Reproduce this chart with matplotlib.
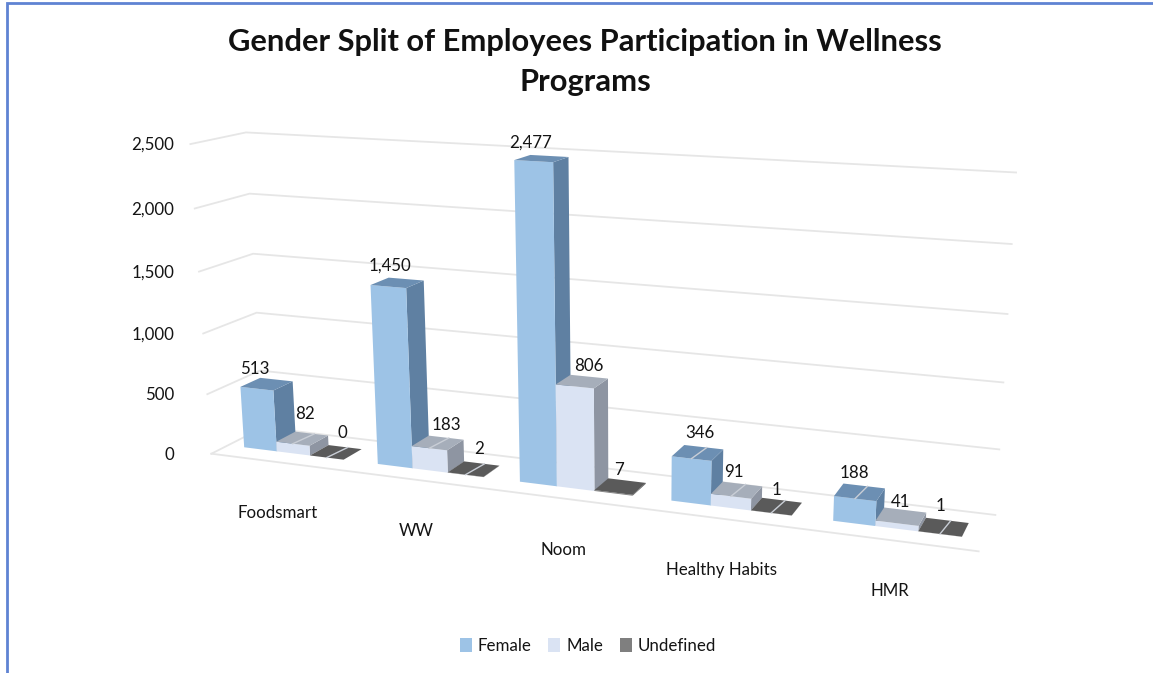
# gender split 3D column chart, perspective done by hand on a pixel sized axes

import numpy as np
import matplotlib
matplotlib.use('Agg')
from matplotlib import pyplot as plt
from matplotlib.patches import Polygon, Patch

plt.rcParams['font.family'] = ['Lato', 'DejaVu Sans']

title = 'Gender Split of Employees Participation in Wellness\nPrograms'
programs = ['Foodsmart', 'WW', 'Noom', 'Healthy Habits', 'HMR']
series = ['Female', 'Male', 'Undefined']
female = [513, 1450, 2477, 346, 188]
male = [82, 183, 806, 91, 41]
undefined = [0, 2, 7, 1, 1]
y_ticks = [0, 500, 1000, 1500, 2000, 2500]

front_col = ['#9DC3E6', '#DAE3F3', '#7F7F7F']
top_col = ['#6C8FB3', '#A6AEBA', '#5A5A5A']
side_col = ['#5F80A2', '#8E95A2', '#555555']
legend_col = ['#9DC3E6', '#DAE3F3', '#7F7F7F']
grid_col = '#E6E6E6'
text_col = '#141414'

# data labels do not sit on a clean rule in the original, so nudge them (pixels)
label_dx = [[-22, -16, -19, -4, -10], [-7, 0, 0, -8, -4], [-3, -3, -8, -5, -7]]
label_dy = [[0, -2, -2, -3, -2], [-9, -2, 0, -1, 3], [-3, -4, 0, 1, -3]]

# camera: (across, depth, value/2500) -> pixel, fitted on points
calib = [
    (0, 0, 0, 212, 452), (1, 0, 0, 980, 552), (0, 1, 0, 266, 431), (1, 1, 0, 995, 514),
    (0, 1, 1, 245, 132), (1, 1, 1, 1016, 173), (0, 1, .8, 250, 193), (1, 1, .8, 1012, 244),
    (0, 1, .6, 252, 252), (1, 1, .6, 1008, 314), (0, 1, .4, 257, 312), (1, 1, .4, 1003, 382),
    (1, 1, .2, 999, 449), (0, 0, 1, 191, 144), (0, 0, .8, 195, 209), (0, 0, .2, 207, 393),
    (.425, .31, .9908, 515, 162), (.425, .31, 0, 519, 481), (.225, .31, .58, 371, 285),
    (.225, .31, 0, 377, 466), (.025, .31, .2052, 240, 387), (.025, .31, 0, 243, 447),
    (.475, .31, .3224, 555, 385), (.475, .69, .9908, 568, 157), (.625, .31, .1384, 672, 457),
    (.625, .31, 0, 671, 500), (.825, .31, .0752, 834, 496), (.825, .31, 0, 833, 520),
]
rows, rhs = [], []
for X, Y, Z, px, py in calib:
    rows.append([X, Y, Z, 1, 0, 0, 0, 0, -px * X, -px * Y, -px * Z])
    rows.append([0, 0, 0, 0, X, Y, Z, 1, -py * X, -py * Y, -py * Z])
    rhs += [px, py]
p = np.linalg.lstsq(np.array(rows, float), np.array(rhs, float), rcond=None)[0]
P = np.append(p, 1).reshape(3, 4)


def proj(u, d, v):
    q = P @ np.array([u, d, v / 2500, 1])
    return q[0] / q[2], q[1] / q[2]


fig = plt.figure(figsize=(11.53, 6.73), dpi=100)
ax = fig.add_axes([0, 0, 1, 1])
ax.set_xlim(0, 1153)
ax.set_ylim(673, 0)
ax.axis('off')

# blue frame of the screenshot
ax.plot([7, 7, 1153], [673, 3, 3], color='#5F83D3', lw=2, solid_joinstyle='miter')

ax.text(585, 62, title, ha='center', va='center', fontsize=22.2, fontweight='bold',
        color='#111111', linespacing=1.5)

# walls and floor
for t in y_ticks:
    pts = [proj(0, 0, t), proj(0, 1, t), proj(1, 1, t)]
    ax.plot(*zip(*pts), color=grid_col, lw=1.3, zorder=1)
    ax.text(174, proj(0, 0, t)[1] + 1, f'{t:,}', ha='right', va='center', fontsize=12.2, color=text_col)
ax.plot(*zip(proj(0, 0, 0), proj(1, 0, 0)), color=grid_col, lw=1.3, zorder=1)

# bars, left to right so the nearer faces cover the rest
d0, d1 = .31, .69
bar_w = .05
values = [female, male, undefined]
for i, name in enumerate(programs):
    for s in range(3):
        val = values[s][i]
        u0 = (i + .125) / 5 + s * bar_w
        u1 = u0 + bar_w
        front = [proj(u0, d0, 0), proj(u1, d0, 0), proj(u1, d0, val), proj(u0, d0, val)]
        side = [proj(u1, d0, 0), proj(u1, d1, 0), proj(u1, d1, val), proj(u1, d0, val)]
        top = [proj(u0, d0, val), proj(u1, d0, val), proj(u1, d1, val), proj(u0, d1, val)]
        ax.add_patch(Polygon(side, fc=side_col[s], ec='none', zorder=2))
        ax.add_patch(Polygon(front, fc=front_col[s], ec='none', zorder=2))
        ax.add_patch(Polygon(top, fc=top_col[s], ec='none', zorder=2))
        # back gridline shows through the low tops
        if val < 400 and name != 'Noom' and val != 41:
            um = (u0 + u1) / 2
            ax.plot(*zip(proj(um, d0, val), proj(um + .004, d1, val)), color='#C9CED6', lw=1, zorder=3)
        lx, ly = proj((u0 + u1) / 2, d1, val)
        ax.text(lx + label_dx[s][i], ly - 11 + label_dy[s][i], f'{val:,}', ha='center', va='center',
                fontsize=12.2, color=text_col, zorder=4)
    cx, cy = proj((i + .5) / 5, 0, 0)
    ax.text(cx, cy + 51, name, ha='center', va='center', fontsize=12.2, color=text_col)

handles = [Patch(fc=c, ec='none') for c in legend_col]
ax.legend(handles, series, loc='center', bbox_to_anchor=(588, 646), bbox_transform=ax.transData,
          ncol=3, frameon=False, fontsize=12.2, handlelength=.7, handleheight=.85,
          handletextpad=.35, columnspacing=1.0, labelcolor=text_col)

fig.savefig('out.png', dpi=100)
